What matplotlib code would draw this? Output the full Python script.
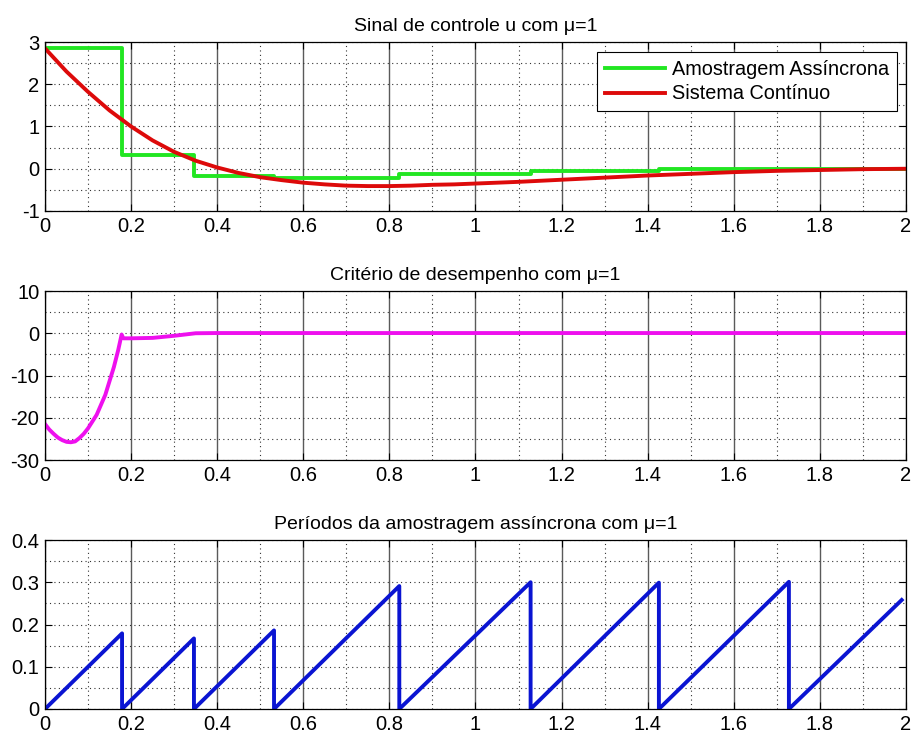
import matplotlib
matplotlib.use('Agg')
import matplotlib.pyplot as plt
import numpy as np

plt.rcParams['font.family'] = ['Liberation Sans', 'DejaVu Sans']
plt.rcParams['axes.unicode_minus'] = False

# sampling instants (read from the period sawtooth)
t_samp = [0, 0.179, 0.346, 0.532, 0.823, 1.128, 1.426, 1.728, 1.99]
# period sawtooth peaks just before each reset, last value at end of record
saw_peak = [0.179, 0.167, 0.186, 0.291, 0.300, 0.299, 0.301, 0.258]

# control held by asynchronous sampling
u_async = [2.85, 0.33, -0.16, -0.23, -0.12, -0.06, -0.01, 0.0]

# continuous-time control
t_cont = [0, 0.05, 0.1, 0.15, 0.2, 0.25, 0.3, 0.35, 0.4, 0.45, 0.5, 0.55, 0.6,
          0.65, 0.7, 0.75, 0.8, 0.85, 0.9, 0.95, 1.0, 1.1, 1.2, 1.3, 1.4, 1.5,
          1.6, 1.7, 1.8, 1.9, 2.0]
u_cont = [2.85, 2.30, 1.82, 1.38, 1.00, 0.67, 0.40, 0.19, 0.03, -0.10, -0.20,
          -0.27, -0.33, -0.37, -0.40, -0.41, -0.41, -0.40, -0.38, -0.37, -0.35,
          -0.31, -0.26, -0.21, -0.16, -0.12, -0.08, -0.05, -0.03, -0.01, 0.0]

# performance criterion
t_crit = [0, 0.01, 0.02, 0.03, 0.04, 0.05, 0.06, 0.07, 0.08, 0.09, 0.1, 0.12,
          0.14, 0.16, 0.17, 0.178, 0.182, 0.2, 0.25, 0.3, 0.35, 0.4, 1.0, 2.0]
crit = [-21.5, -22.8, -23.8, -24.7, -25.3, -25.7, -25.8, -25.6, -24.8, -23.8,
        -22.5, -19.3, -14.6, -8.0, -4.0, -0.3, -1.2, -1.2, -1.1, -0.6, 0.0,
        0.05, 0.05, 0.05]

xticks = [0, 0.2, 0.4, 0.6, 0.8, 1, 1.2, 1.4, 1.6, 1.8, 2]
xlabels = ['0', '0.2', '0.4', '0.6', '0.8', '1', '1.2', '1.4', '1.6', '1.8', '2']

fig = plt.figure(figsize=(9.15, 7.37), dpi=100)


def style_axes(ax, ylim, yticks, ystep, title):
    ax.set_xlim(0, 2)
    ax.set_ylim(*ylim)
    ax.set_xticks(xticks)
    ax.set_xticklabels(xlabels)
    ax.set_xticks(np.arange(0.1, 2.0, 0.2), minor=True)
    ax.set_yticks(yticks)
    ax.set_yticklabels([('%g' % v) for v in yticks])
    ax.set_yticks(np.arange(ylim[0], ylim[1] + 1e-9, ystep), minor=True)
    ax.grid(which='major', axis='x', color='#5a5a5a', linestyle='-', linewidth=1.0)
    ax.grid(which='minor', axis='x', color='#333333', linestyle=(0, (1, 3)), linewidth=0.8)
    ax.grid(which='both', axis='y', color='#333333', linestyle=(0, (1, 3)), linewidth=0.8)
    ax.set_axisbelow(True)
    ax.tick_params(which='major', direction='in', top=True, right=True,
                   length=5, labelsize=14.5, pad=4)
    ax.tick_params(which='minor', length=0)
    for s in ax.spines.values():
        s.set_color('black')
        s.set_linewidth(0.9)
    ax.set_title(title, fontsize=14, pad=8)


# top: control signal
ax1 = fig.add_axes([45 / 915, 1 - 211 / 737, 861 / 915, 169 / 737])
ax1.step(t_samp[:-1] + [2.0], u_async + [u_async[-1]], where='post', color='#22e622',
         linewidth=2.8, label='Amostragem Assíncrona')
ax1.plot(t_cont, u_cont, color='#dd0a0a', linewidth=2.8, label='Sistema Contínuo')
style_axes(ax1, (-1, 3), [-1, 0, 1, 2, 3], 0.5, 'Sinal de controle u com μ=1')
leg = ax1.legend(loc='upper right', bbox_to_anchor=(0.9896, 0.941), borderaxespad=0,
                 fancybox=False, framealpha=1, edgecolor='black', fontsize=14.3,
                 handlelength=3.0, handletextpad=0.35, borderpad=0.4,
                 labelspacing=0.28)
leg.get_frame().set_linewidth(0.8)

# middle: performance criterion
ax2 = fig.add_axes([45 / 915, 1 - 460 / 737, 861 / 915, 169 / 737])
ax2.plot(t_crit, crit, color='#ee10ee', linewidth=2.8)
style_axes(ax2, (-30, 10), [-30, -20, -10, 0, 10], 5, 'Critério de desempenho com μ=1')

# bottom: sampling periods (sawtooth)
saw_t = []
saw_y = []
for k in range(len(t_samp) - 1):
    saw_t += [t_samp[k], t_samp[k + 1]]
    saw_y += [0, saw_peak[k]]
ax3 = fig.add_axes([45 / 915, 1 - 709 / 737, 861 / 915, 169 / 737])
ax3.plot(saw_t, saw_y, color='#0a14d2', linewidth=2.8)
style_axes(ax3, (0, 0.4), [0, 0.1, 0.2, 0.3, 0.4], 0.05,
           'Períodos da amostragem assíncrona com μ=1')

fig.savefig('out.png', dpi=100)
